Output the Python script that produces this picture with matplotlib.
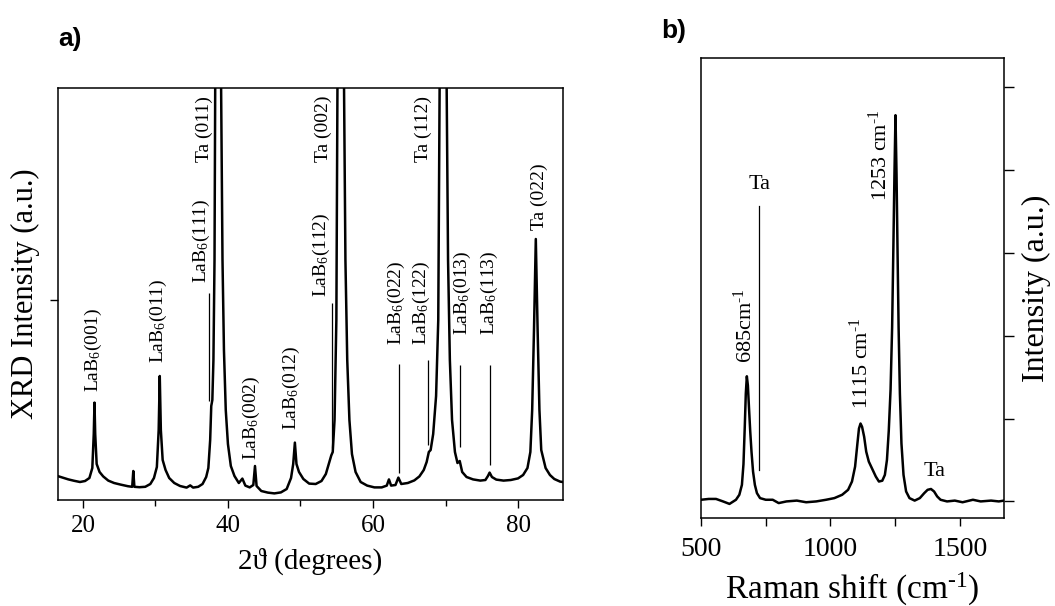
import numpy as np
import matplotlib.pyplot as plt

plt.rcParams['font.family'] = ['Liberation Serif', 'DejaVu Serif']
plt.rcParams['mathtext.fontset'] = 'custom'
plt.rcParams['mathtext.rm'] = 'Liberation Serif'
plt.rcParams['mathtext.it'] = 'Liberation Serif:italic'
plt.rcParams['mathtext.bf'] = 'Liberation Serif:bold'

# ---- panel a: XRD pattern (2theta in degrees, intensity in a.u.) ----
two_theta = [16.5, 17.2, 18.0, 18.8, 19.6, 20.3, 20.9, 21.3, 21.5, 21.6, 21.7, 21.9,
             22.3, 22.8, 23.5, 24.3, 25.2, 26.2, 26.8, 26.95, 27.1, 27.8, 28.6, 29.3,
             29.8, 30.2, 30.45, 30.6, 30.75, 31.0, 31.4, 31.9, 32.6, 33.4, 34.3, 34.8,
             35.2, 35.9, 36.5, 37.0, 37.3, 37.55, 37.7, 37.85, 38.0, 38.15, 38.25, 38.4,
             38.66, 38.9, 39.05, 39.25, 39.45, 39.7, 40.0, 40.4, 40.9, 41.5, 41.99, 42.4,
             43.0, 43.5, 43.73, 43.95, 44.6, 45.5, 46.4, 47.3, 48.1, 48.7, 49.0, 49.23,
             49.45, 49.8, 50.4, 51.2, 52.1, 52.9, 53.5, 53.9, 54.25, 54.45, 54.7, 54.95,
             55.1, 55.3, 55.57, 55.8, 56.0, 56.2, 56.45, 56.75, 57.1, 57.6, 58.3, 59.2,
             60.2, 61.2, 61.9, 62.2, 62.5, 63.1, 63.5, 63.9, 64.8, 65.7, 66.4, 67.0,
             67.4, 67.7, 67.95, 68.3, 68.7, 69.0, 69.2, 69.4, 69.7, 69.95, 70.15, 70.35,
             70.6, 70.9, 71.3, 71.65, 71.96, 72.3, 72.9, 73.8, 74.8, 75.5, 75.85, 76.08,
             76.4, 77.0, 78.0, 79.0, 80.0, 80.7, 81.3, 81.7, 81.95, 82.2, 82.45, 82.7,
             82.95, 83.2, 83.8, 84.4, 85.0, 85.8, 86.5]
xrd = [120, 112, 103, 96, 90, 95, 110, 160, 330, 487, 330, 180,
       140, 118, 97, 85, 77, 69, 66, 145, 66, 64, 66, 80,
       110, 165, 350, 620, 350, 200, 150, 110, 85, 70, 62, 73,
       62, 66, 80, 115, 160, 300, 470, 500, 700, 1200, 2100, 3500,
       5000, 3500, 2100, 1200, 750, 450, 280, 170, 120, 85, 107, 72,
       63, 75, 170, 70, 45, 37, 33, 38, 55, 110, 180, 287,
       180, 140, 105, 82, 80, 95, 130, 180, 223, 240, 400, 900,
       2100, 3500, 5000, 3500, 2100, 1200, 700, 400, 230, 140, 90, 72,
       63, 63, 72, 103, 72, 75, 112, 80, 85, 98, 118, 150,
       190, 240, 250, 330, 520, 900, 2100, 3500, 5000, 3500, 2100, 1200,
       700, 400, 240, 185, 195, 140, 115, 103, 97, 100, 120, 137,
       115, 102, 97, 100, 108, 125, 160, 240, 450, 850, 1305, 850,
       450, 250, 160, 125, 105, 92, 88]

# peak labels: text, x, bottom of text
xrd_labels = ['LaB$_6$(001)', 'LaB$_6$(011)', 'LaB$_6$(111)', 'Ta (011)', 'LaB$_6$(002)',
              'LaB$_6$(012)', 'LaB$_6$(112)', 'Ta (002)', 'LaB$_6$(022)', 'LaB$_6$(122)',
              'Ta (112)', 'LaB$_6$(013)', 'LaB$_6$(113)', 'Ta (022)']
xrd_label_x = [21.5, 30.4, 36.4, 36.8, 43.3, 48.8, 52.9, 53.1, 63.3, 66.7, 66.9, 72.4, 76.0, 83.0]
xrd_label_y = [542, 683, 1085, 1690, 200, 350, 1017, 1692, 775, 775, 1690, 825, 825, 1350]

# marker lines for weak reflections: x, lower end, upper end
mark_x = [37.4, 54.4, 63.57, 67.6, 71.97, 76.1]
mark_lo = [495, 262, 137, 275, 265, 175]
mark_hi = [1037, 985, 678, 700, 675, 675]

# ---- panel b: Raman spectrum ----
raman_shift = [500, 530, 558, 585, 610, 635, 648, 658, 664, 669, 673, 677, 681, 685, 690,
               695, 701, 708, 716, 728, 750, 777, 800, 830, 870, 906, 945, 983, 1015,
               1045, 1068, 1083, 1095, 1104, 1110, 1116, 1122, 1130, 1138, 1148, 1160,
               1175, 1187, 1200, 1210, 1218, 1225, 1232, 1238, 1243, 1247, 1251, 1255,
               1259, 1263, 1268, 1274, 1282, 1292, 1305, 1325, 1345, 1362, 1375, 1388,
               1400, 1412, 1425, 1450, 1480, 1510, 1550, 1580, 1620, 1650, 1670]
raman_int = [0.02, 0.03, 0.03, 0.0, -0.03, 0.02, 0.08, 0.2, 0.45, 0.9, 1.3, 1.51, 1.4, 1.15, 0.85,
             0.6, 0.36, 0.2, 0.1, 0.04, 0.02, 0.02, -0.02, 0.0, 0.01, -0.01, 0.0, 0.02, 0.04,
             0.08, 0.14, 0.24, 0.42, 0.7, 0.88, 0.94, 0.9, 0.78, 0.6, 0.48, 0.4,
             0.3, 0.24, 0.25, 0.32, 0.5, 0.85, 1.35, 2.1, 3.1, 3.95, 4.66, 3.95,
             3.0, 2.1, 1.3, 0.7, 0.32, 0.12, 0.04, 0.01, 0.04, 0.1, 0.14, 0.15,
             0.12, 0.06, 0.02, 0.0, 0.01, -0.01, 0.02, 0.0, 0.01, 0.0, 0.01]

raman_labels = ['685cm$^{\u2010 1}$', '1115 cm$^{\u2010 1}$', '1253 cm$^{\u2010 1}$']
raman_label_x = [671, 1118.6, 1192]
raman_label_y = [1.67, 1.11, 3.62]

W, H = 1055, 606
fig = plt.figure(figsize=(W / 100, H / 100), dpi=100)

# ---------- a) ----------
axA = fig.add_axes([57.5 / W, 1 - 500 / H, (563 - 57.5) / W, (500 - 88) / H])
axA.plot(two_theta, xrd, color='black', lw=1.8)
axA.vlines(mark_x, mark_lo, mark_hi, color='black', lw=0.9)
for lab, x, y in zip(xrd_labels, xrd_label_x, xrd_label_y):
    axA.text(x, y, lab, rotation=90, ha='center', va='bottom', fontsize=14)
axA.set_xlim(16.5, 86.2)
axA.set_ylim(0, 2060)
axA.set_xticks([20, 40, 60, 80])
axA.set_xticks([30, 50, 70], minor=True)
axA.set_yticks([1000])
axA.set_yticklabels([])
axA.tick_params(axis='both', which='major', direction='out', length=5.5, width=1.0,
                labelsize=18, pad=5)
axA.tick_params(axis='x', which='minor', direction='out', length=4, width=1.0)
for s in axA.spines.values():
    s.set_linewidth(1.1)
axA.set_xlabel('2ϑ (degrees)', fontsize=21, labelpad=8)
axA.set_ylabel('XRD Intensity (a.u.)', fontsize=22, labelpad=2)

# ---------- b) ----------
axB = fig.add_axes([701 / W, 1 - 518 / H, (1004 - 701) / W, (518 - 58) / H])
axB.plot(raman_shift, raman_int, color='black', lw=1.8)
axB.plot([725.5, 725.5], [0.38, 3.56], color='black', lw=0.9)
axB.text(728, 3.82, 'Ta', ha='center', va='center', fontsize=16)
axB.text(1400, 0.36, 'Ta', ha='center', va='center', fontsize=16)
for lab, x, y in zip(raman_labels, raman_label_x, raman_label_y):
    axB.text(x, y, lab, rotation=90, ha='center', va='bottom', fontsize=16)
axB.set_xlim(500, 1670)
axB.set_ylim(-0.2, 5.35)
axB.set_xticks([500, 1000, 1500])
axB.set_xticks([750, 1250], minor=True)
axB.set_yticks([0, 1, 2, 3, 4, 5])
axB.yaxis.tick_right()
axB.tick_params(axis='y', which='both', left=False, right=True, labelright=False,
                direction='out', length=7, width=1.0)
axB.tick_params(axis='x', which='major', direction='out', length=6, width=1.0,
                labelsize=20, pad=8)
axB.tick_params(axis='x', which='minor', direction='out', length=6, width=1.0)
for s in axB.spines.values():
    s.set_linewidth(1.1)
axB.yaxis.set_label_position('right')
axB.set_ylabel('Intensity (a.u.)', fontsize=23, labelpad=6)
axB.set_xlabel('Raman shift (cm$^{\u2010 1}$)', fontsize=24, labelpad=6)

fig.text(58 / W, 1 - 39 / H, 'a)', fontsize=19, fontweight='bold', family='Liberation Sans',
         ha='left', va='center')
fig.text(661 / W, 1 - 31 / H, 'b)', fontsize=19, fontweight='bold', family='Liberation Sans',
         ha='left', va='center')

fig.savefig('out.png', dpi=100)
